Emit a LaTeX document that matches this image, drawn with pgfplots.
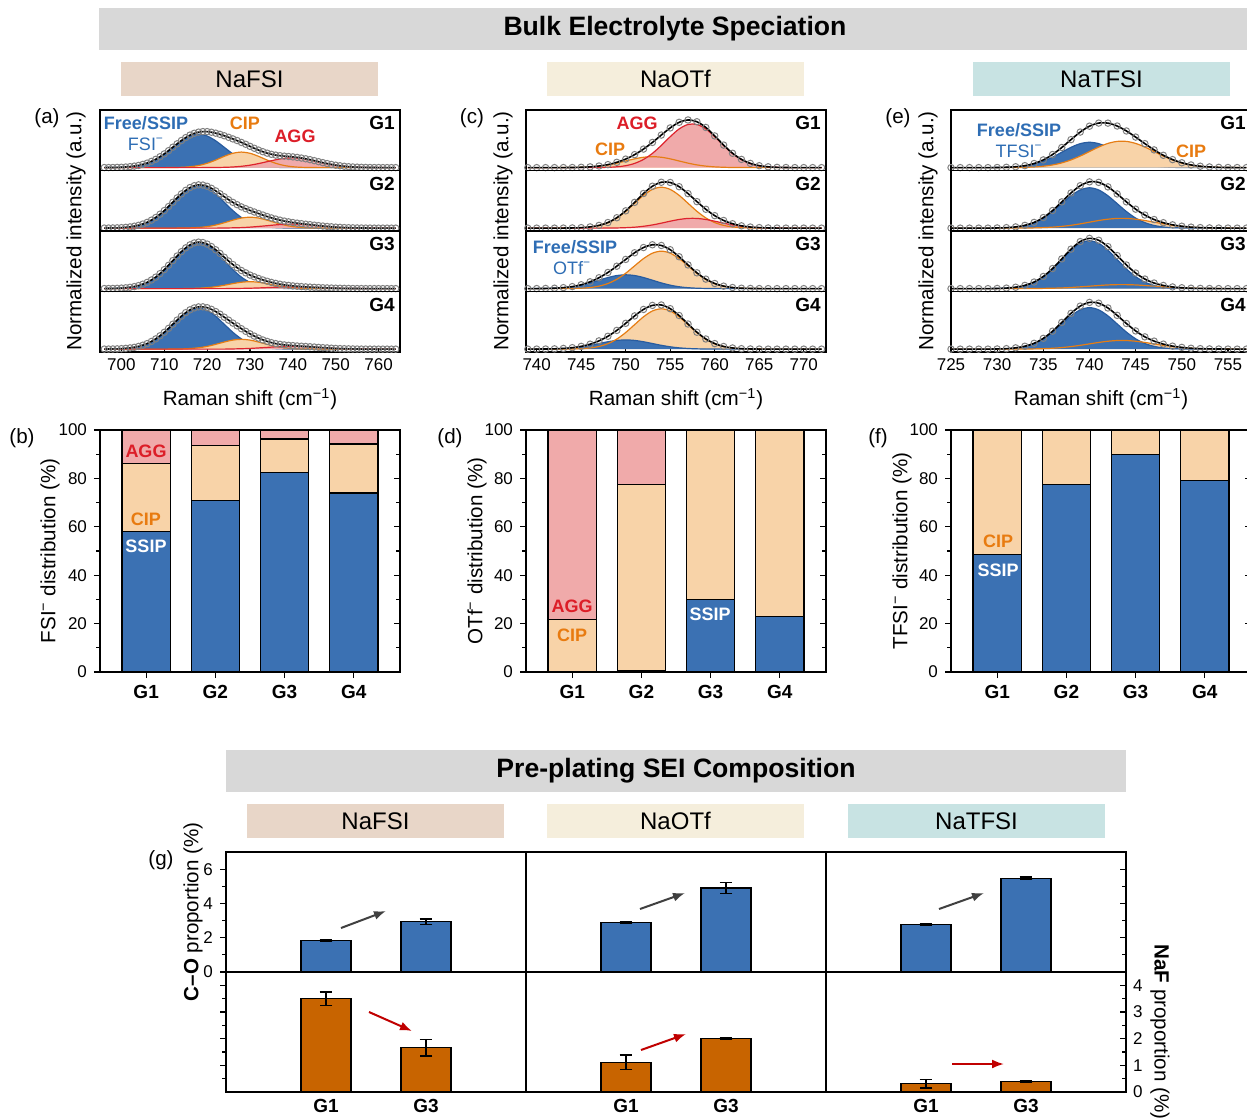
\documentclass[border=0pt]{standalone}
\usepackage{fontspec}
\setmainfont{Liberation Sans}
\usepackage{pgfplots}
\usepackage{pgfplotstable}
\pgfplotsset{compat=1.18}
\usetikzlibrary{arrows.meta}

\definecolor{cBf}{RGB}{59,113,179}
\definecolor{cBl}{RGB}{40,92,160}
\definecolor{cOf}{RGB}{248,211,168}
\definecolor{cOl}{RGB}{230,125,20}
\definecolor{cRf}{RGB}{240,170,170}
\definecolor{cRl}{RGB}{222,35,45}
\definecolor{cBt}{RGB}{46,109,180}
\definecolor{cOt}{RGB}{232,123,16}
\definecolor{cRt}{RGB}{220,30,40}
\definecolor{cGray}{RGB}{216,216,216}
\definecolor{cFSI}{RGB}{232,214,200}
\definecolor{cOTf}{RGB}{245,238,220}
\definecolor{cTFSI}{RGB}{200,227,227}
\definecolor{cNaF}{RGB}{200,100,0}
\definecolor{cMark}{RGB}{128,128,128}
\definecolor{cArG}{RGB}{64,64,64}
\definecolor{cArR}{RGB}{192,0,0}

\newcommand\titlefont{\fontsize{13.3}{15}\selectfont\bfseries}
\newcommand\banfont{\fontsize{12}{14}\selectfont}
\newcommand\lblfont{\fontsize{10.3}{12}\selectfont}
\newcommand\tickfont{\fontsize{8.5}{10}\selectfont}
\newcommand\gfont{\fontsize{9.5}{11}\selectfont\bfseries}
\newcommand\annB{\fontsize{9}{10}\selectfont\bfseries}
\newcommand\annR{\fontsize{9}{10}\selectfont}

% ---------------- (a) NaFSI spectra ----------------
\pgfplotstableread{
x b o r f
696 0.001 0 0 0.001
698 0.002 0 0 0.002
700 0.006 0 0 0.006
702 0.017 0 0 0.017
704 0.038 0 0 0.038
706 0.078 0 0 0.078
708 0.144 0 0 0.144
710 0.238 0 0 0.238
712 0.352 0.002 0 0.354
714 0.465 0.005 0 0.470
716 0.549 0.015 0 0.564
718 0.580 0.036 0 0.616
720 0.549 0.075 0.001 0.625
722 0.465 0.131 0.002 0.598
724 0.352 0.196 0.005 0.553
726 0.238 0.249 0.011 0.498
728 0.144 0.270 0.023 0.437
730 0.078 0.249 0.042 0.369
732 0.038 0.196 0.070 0.304
734 0.017 0.131 0.103 0.251
736 0.006 0.075 0.136 0.217
738 0.002 0.036 0.161 0.199
740 0.001 0.015 0.170 0.186
742 0 0.005 0.161 0.166
744 0 0.002 0.136 0.138
746 0 0 0.103 0.103
748 0 0 0.070 0.070
750 0 0 0.042 0.042
752 0 0 0.023 0.023
754 0 0 0.011 0.011
756 0 0 0.005 0.005
758 0 0 0.002 0.002
760 0 0 0.001 0.001
762 0 0 0 0
764 0 0 0 0
}\tAa
\pgfplotstableread{
x f
697 0.001
699 0.004
701 0.010
703 0.026
705 0.056
707 0.108
709 0.189
711 0.294
713 0.413
715 0.521
717 0.596
719 0.625
721 0.614
723 0.577
725 0.526
727 0.470
729 0.405
731 0.336
733 0.276
735 0.231
737 0.207
739 0.193
741 0.177
743 0.153
745 0.121
747 0.086
749 0.055
751 0.032
753 0.016
755 0.008
757 0.003
759 0.001
761 0
763 0
}\tAaO
\pgfplotstableread{
x b o r f
696 0.001 0 0 0.001
698 0.003 0 0 0.003
700 0.008 0 0 0.008
702 0.021 0 0 0.021
704 0.049 0 0 0.049
706 0.100 0 0 0.100
708 0.184 0 0 0.184
710 0.304 0 0 0.304
712 0.449 0 0 0.449
714 0.593 0.001 0 0.594
716 0.700 0.004 0 0.704
718 0.740 0.011 0 0.751
720 0.700 0.026 0 0.726
722 0.593 0.053 0 0.646
724 0.449 0.093 0.002 0.544
726 0.304 0.138 0.005 0.447
728 0.184 0.175 0.009 0.368
730 0.100 0.190 0.017 0.307
732 0.049 0.175 0.029 0.253
734 0.021 0.138 0.042 0.201
736 0.008 0.093 0.056 0.157
738 0.003 0.053 0.066 0.122
740 0.001 0.026 0.070 0.097
742 0 0.011 0.066 0.077
744 0 0.004 0.056 0.060
746 0 0.001 0.042 0.043
748 0 0 0.029 0.029
750 0 0 0.017 0.017
752 0 0 0.009 0.009
754 0 0 0.005 0.005
756 0 0 0.002 0.002
758 0 0 0.001 0.001
760 0 0 0 0
762 0 0 0 0
764 0 0 0 0
}\tAb
\pgfplotstableread{
x f
697 0.002
699 0.005
701 0.013
703 0.033
705 0.071
707 0.138
709 0.241
711 0.374
713 0.524
715 0.655
717 0.736
719 0.747
721 0.691
723 0.595
725 0.492
727 0.407
729 0.337
731 0.280
733 0.227
735 0.177
737 0.138
739 0.109
741 0.086
743 0.068
745 0.051
747 0.036
749 0.023
751 0.013
753 0.007
755 0.003
757 0.001
759 0
761 0
763 0
}\tAbO
\pgfplotstableread{
x b o r f
696 0.001 0 0 0.001
698 0.003 0 0 0.003
700 0.009 0 0 0.009
702 0.023 0 0 0.023
704 0.053 0 0 0.053
706 0.108 0 0 0.108
708 0.199 0 0 0.199
710 0.329 0 0 0.329
712 0.486 0 0 0.486
714 0.641 0 0 0.641
716 0.757 0.002 0 0.759
718 0.800 0.007 0 0.807
720 0.757 0.016 0 0.773
722 0.641 0.033 0 0.674
724 0.486 0.058 0 0.544
726 0.329 0.087 0.002 0.418
728 0.199 0.111 0.004 0.314
730 0.108 0.120 0.007 0.235
732 0.053 0.111 0.012 0.176
734 0.023 0.087 0.018 0.128
736 0.009 0.058 0.024 0.091
738 0.003 0.033 0.028 0.064
740 0.001 0.016 0.030 0.047
742 0 0.007 0.028 0.035
744 0 0.002 0.024 0.026
746 0 0.001 0.018 0.019
748 0 0 0.012 0.012
750 0 0 0.007 0.007
752 0 0 0.004 0.004
754 0 0 0.002 0.002
756 0 0 0.001 0.001
758 0 0 0 0
760 0 0 0 0
762 0 0 0 0
764 0 0 0 0
}\tAc
\pgfplotstableread{
x f
697 0.002
699 0.005
701 0.014
703 0.035
705 0.077
707 0.150
709 0.260
711 0.405
713 0.566
715 0.707
717 0.793
719 0.800
721 0.730
723 0.611
725 0.479
727 0.363
729 0.274
731 0.205
733 0.150
735 0.108
737 0.076
739 0.056
741 0.041
743 0.030
745 0.022
747 0.015
749 0.010
751 0.006
753 0.003
755 0.001
757 0
759 0
761 0
763 0
}\tAcO
\pgfplotstableread{
x b o r f
696 0.001 0 0 0.001
698 0.003 0 0 0.003
700 0.008 0 0 0.008
702 0.021 0 0 0.021
704 0.047 0 0 0.047
706 0.096 0 0 0.096
708 0.177 0 0 0.177
710 0.292 0 0 0.292
712 0.431 0.001 0 0.432
714 0.569 0.003 0 0.572
716 0.672 0.010 0 0.682
718 0.710 0.023 0 0.733
720 0.672 0.047 0 0.719
722 0.569 0.083 0 0.652
724 0.431 0.123 0 0.554
726 0.292 0.157 0.003 0.452
728 0.177 0.170 0.007 0.354
730 0.096 0.157 0.012 0.265
732 0.047 0.123 0.021 0.191
734 0.021 0.083 0.030 0.134
736 0.008 0.047 0.040 0.095
738 0.003 0.023 0.047 0.073
740 0.001 0.010 0.050 0.061
742 0 0.003 0.047 0.050
744 0 0.001 0.040 0.041
746 0 0 0.030 0.030
748 0 0 0.021 0.021
750 0 0 0.012 0.012
752 0 0 0.007 0.007
754 0 0 0.003 0.003
756 0 0 0.001 0.001
758 0 0 0 0
760 0 0 0 0
762 0 0 0 0
764 0 0 0 0
}\tAd
\pgfplotstableread{
x f
697 0.002
699 0.005
701 0.013
703 0.031
705 0.068
707 0.133
709 0.231
711 0.360
713 0.504
715 0.633
717 0.715
719 0.734
721 0.691
723 0.606
725 0.503
727 0.403
729 0.309
731 0.226
733 0.159
735 0.112
737 0.083
739 0.066
741 0.055
743 0.046
745 0.036
747 0.025
749 0.016
751 0.009
753 0.005
755 0.002
757 0.001
759 0
761 0
763 0
}\tAdO

% ---------------- (c) NaOTf spectra ----------------
\pgfplotstableread{
x o r f
739 0 0 0
740 0 0 0
741 0 0 0
742 0 0 0
743 0.001 0 0.001
744 0.002 0 0.002
745 0.006 0 0.006
746 0.013 0 0.013
747 0.026 0.002 0.028
748 0.047 0.005 0.052
749 0.078 0.014 0.092
750 0.115 0.033 0.148
751 0.152 0.073 0.225
752 0.180 0.142 0.322
753 0.190 0.247 0.437
754 0.180 0.385 0.565
755 0.152 0.537 0.689
756 0.115 0.671 0.786
757 0.078 0.749 0.827
758 0.047 0.749 0.796
759 0.026 0.671 0.697
760 0.013 0.537 0.550
761 0.006 0.385 0.391
762 0.002 0.247 0.249
763 0.001 0.142 0.143
764 0 0.073 0.073
765 0 0.033 0.033
766 0 0.014 0.014
767 0 0.005 0.005
768 0 0.002 0.002
769 0 0 0
770 0 0 0
771 0 0 0
772 0 0 0
}\tCa
\pgfplotstableread{
x o r f
739 0 0 0
740 0 0 0
741 0 0 0
742 0 0 0
743 0.001 0 0.001
744 0.003 0 0.003
745 0.008 0 0.008
746 0.021 0 0.021
747 0.047 0 0.047
748 0.096 0.001 0.097
749 0.177 0.003 0.180
750 0.292 0.008 0.300
751 0.431 0.016 0.447
752 0.569 0.032 0.601
753 0.672 0.055 0.727
754 0.710 0.086 0.796
755 0.672 0.120 0.792
756 0.569 0.150 0.719
757 0.431 0.168 0.599
758 0.292 0.168 0.460
759 0.177 0.150 0.327
760 0.096 0.120 0.216
761 0.047 0.086 0.133
762 0.021 0.055 0.076
763 0.008 0.032 0.040
764 0.003 0.016 0.019
765 0.001 0.008 0.009
766 0 0.003 0.003
767 0 0.001 0.001
768 0 0 0
769 0 0 0
770 0 0 0
771 0 0 0
772 0 0 0
}\tCb
\pgfplotstableread{
x b o f
739 0 0 0
740 0.001 0 0.001
741 0.003 0 0.003
742 0.007 0 0.007
743 0.016 0.001 0.017
744 0.032 0.003 0.035
745 0.060 0.007 0.067
746 0.099 0.019 0.118
747 0.146 0.043 0.189
748 0.192 0.088 0.280
749 0.227 0.162 0.389
750 0.240 0.267 0.507
751 0.227 0.395 0.622
752 0.192 0.521 0.713
753 0.146 0.615 0.761
754 0.099 0.650 0.749
755 0.060 0.615 0.675
756 0.032 0.521 0.553
757 0.016 0.395 0.411
758 0.007 0.267 0.274
759 0.003 0.162 0.165
760 0.001 0.088 0.089
761 0 0.043 0.043
762 0 0.019 0.019
763 0 0.007 0.007
764 0 0.003 0.003
765 0 0.001 0.001
766 0 0 0
767 0 0 0
768 0 0 0
769 0 0 0
770 0 0 0
771 0 0 0
772 0 0 0
}\tCc
\pgfplotstableread{
x b o f
739 0 0 0
740 0.001 0 0.001
741 0.002 0 0.002
742 0.005 0 0.005
743 0.011 0.001 0.012
744 0.022 0.003 0.025
745 0.040 0.008 0.048
746 0.066 0.020 0.086
747 0.097 0.046 0.143
748 0.128 0.095 0.223
749 0.151 0.174 0.325
750 0.160 0.288 0.448
751 0.151 0.425 0.576
752 0.128 0.561 0.689
753 0.097 0.662 0.759
754 0.066 0.700 0.766
755 0.040 0.662 0.702
756 0.022 0.561 0.583
757 0.011 0.425 0.436
758 0.005 0.288 0.293
759 0.002 0.174 0.176
760 0.001 0.095 0.096
761 0 0.046 0.046
762 0 0.020 0.020
763 0 0.008 0.008
764 0 0.003 0.003
765 0 0.001 0.001
766 0 0 0
767 0 0 0
768 0 0 0
769 0 0 0
770 0 0 0
771 0 0 0
772 0 0 0
}\tCd

% ---------------- (e) NaTFSI spectra ----------------
\pgfplotstableread{
x b o f
725 0 0 0
726 0 0 0
727 0 0 0
728 0 0 0
729 0 0 0
730 0.002 0 0.002
731 0.005 0.001 0.006
732 0.013 0.002 0.015
733 0.029 0.005 0.034
734 0.059 0.012 0.071
735 0.110 0.024 0.134
736 0.181 0.046 0.227
737 0.267 0.082 0.349
738 0.352 0.134 0.486
739 0.416 0.201 0.617
740 0.440 0.279 0.719
741 0.416 0.357 0.773
742 0.352 0.420 0.772
743 0.267 0.455 0.722
744 0.181 0.455 0.636
745 0.110 0.420 0.530
746 0.059 0.357 0.416
747 0.029 0.279 0.308
748 0.013 0.201 0.214
749 0.005 0.134 0.139
750 0.002 0.082 0.084
751 0 0.046 0.046
752 0 0.024 0.024
753 0 0.012 0.012
754 0 0.005 0.005
755 0 0.002 0.002
756 0 0.001 0.001
757 0 0 0
}\tEa
\pgfplotstableread{
x b o f
725 0 0 0
726 0 0 0
727 0 0 0
728 0 0 0
729 0 0 0
730 0.003 0 0.003
731 0.008 0 0.008
732 0.020 0.001 0.021
733 0.046 0.002 0.048
734 0.095 0.004 0.099
735 0.174 0.009 0.183
736 0.288 0.017 0.305
737 0.425 0.030 0.455
738 0.561 0.049 0.610
739 0.662 0.074 0.736
740 0.700 0.103 0.803
741 0.662 0.132 0.794
742 0.561 0.155 0.716
743 0.425 0.168 0.593
744 0.288 0.168 0.456
745 0.174 0.155 0.329
746 0.095 0.132 0.227
747 0.046 0.103 0.149
748 0.020 0.074 0.094
749 0.008 0.049 0.057
750 0.003 0.030 0.033
751 0 0.017 0.017
752 0 0.009 0.009
753 0 0.004 0.004
754 0 0.002 0.002
755 0 0.001 0.001
756 0 0 0
757 0 0 0
}\tEb
\pgfplotstableread{
x b o f
725 0 0 0
726 0 0 0
727 0 0 0
728 0 0 0
729 0 0 0
730 0.003 0 0.003
731 0.009 0 0.009
732 0.024 0 0.024
733 0.055 0.001 0.056
734 0.112 0.002 0.114
735 0.207 0.004 0.211
736 0.341 0.007 0.348
737 0.504 0.012 0.516
738 0.665 0.020 0.685
739 0.785 0.031 0.816
740 0.830 0.042 0.872
741 0.785 0.054 0.839
742 0.665 0.064 0.729
743 0.504 0.069 0.573
744 0.341 0.069 0.410
745 0.207 0.064 0.271
746 0.112 0.054 0.166
747 0.055 0.042 0.097
748 0.024 0.031 0.055
749 0.009 0.020 0.029
750 0.003 0.012 0.015
751 0 0.007 0.007
752 0 0.004 0.004
753 0 0.002 0.002
754 0 0.001 0.001
755 0 0 0
756 0 0 0
757 0 0 0
}\tEc
\pgfplotstableread{
x b o f
725 0 0 0
726 0 0 0
727 0 0 0
728 0 0 0
729 0 0 0
730 0.003 0 0.003
731 0.008 0 0.008
732 0.021 0.001 0.022
733 0.048 0.002 0.050
734 0.097 0.004 0.101
735 0.179 0.008 0.187
736 0.296 0.015 0.311
737 0.437 0.027 0.464
738 0.577 0.044 0.621
739 0.681 0.066 0.747
740 0.720 0.091 0.811
741 0.681 0.116 0.797
742 0.577 0.137 0.714
743 0.437 0.149 0.586
744 0.296 0.149 0.445
745 0.179 0.137 0.316
746 0.097 0.116 0.213
747 0.048 0.091 0.139
748 0.021 0.066 0.087
749 0.008 0.044 0.052
750 0.003 0.027 0.030
751 0 0.015 0.015
752 0 0.008 0.008
753 0 0.004 0.004
754 0 0.002 0.002
755 0 0.001 0.001
756 0 0 0
757 0 0 0
}\tEd

\pgfplotsset{
  /pgf/number format/assume math mode=true,
  every tick/.style={black, line width=0.6pt},
  spec/.style={scale only axis, width=150pt, height=30.25pt, anchor=north west,
    ymin=-0.05, ymax=1, ytick=\empty, xtick=\empty,
    axis line style={line width=0.7pt}},
  specx/.style={xtick pos=left, tick align=inside, major tick length=2pt,
    xticklabel style={font=\tickfont}},
  Bf/.style={fill=cBf, draw=none, smooth},
  Of/.style={fill=cOf, draw=none, smooth},
  Rf/.style={fill=cRf, draw=none, smooth},
  Bl/.style={draw=cBl, line width=0.6pt, smooth},
  Ol/.style={draw=cOl, line width=0.6pt, smooth},
  Rl/.style={draw=cRl, line width=0.6pt, smooth},
  Fl/.style={draw=black, line width=0.8pt, smooth},
  Dm/.style={only marks, mark=o, mark size=1.6pt, mark options={draw=cMark, line width=0.5pt}},
  bars/.style={scale only axis, width=150pt, height=121pt, anchor=north west,
    xmin=-0.667, xmax=3.667, ymin=0, ymax=100, ybar stacked, bar width=0.7,
    xtick={0,1,2,3}, xticklabels={G1,G2,G3,G4}, xticklabel style={font=\gfont},
    ytick={0,20,...,100}, minor y tick num=1, yticklabel style={font=\tickfont},
    xtick pos=left, ytick pos=left, tick align=outside,
    major tick length=3pt, minor tick length=1.8pt,
    axis line style={line width=0.7pt},
    every axis plot/.append style={draw=black, line width=0.6pt}},
  rt/.style={scale only axis, width=150pt, height=121pt, anchor=north west,
    xmin=0, xmax=1, ymin=0, ymax=100, axis x line=none, axis y line*=right,
    axis line style={draw=none},
    ytick={0,20,...,100}, minor y tick num=1, yticklabels={}, tick align=inside,
    major tick length=3pt, minor tick length=1.8pt},
  gb/.style={scale only axis, width=150pt, height=60pt, anchor=north west,
    xmin=0, xmax=3, xtick=\empty, ytick=\empty,
    axis line style={line width=0.7pt},
    major tick length=3pt, minor tick length=1.8pt,
    yticklabel style={font=\tickfont}},
  gtop/.style={gb, ymin=0, ymax=7},
  gbot/.style={gb, ymin=0, ymax=4.5, xtick={1,2}, xticklabels={G1,G3},
    xticklabel style={font=\gfont}, xtick pos=left, xtick align=inside,
    xtick style={draw=none}},
  Bbar/.style={ybar, bar width=0.5, fill=cBf, draw=black, line width=0.6pt,
    error bars/.cd, y dir=both, y explicit,
    error bar style={line width=0.8pt, black},
    error mark options={rotate=90, line width=0.8pt, mark size=3.2pt, black}},
  Nbar/.style={ybar, bar width=0.5, fill=cNaF, draw=black, line width=0.6pt,
    error bars/.cd, y dir=both, y explicit,
    error bar style={line width=0.8pt, black},
    error mark options={rotate=90, line width=0.8pt, mark size=3.2pt, black}},
}

% #1 axis options, #2 table, #3 label,
% #4 blue: 0 none, 1 below orange, 2 above orange; #5 red present; #6 extra
\newcommand{\spec}[6]{%
\begin{axis}[spec,#1]
\ifnum#4=1 \addplot[Bf] table[x=x,y=b]{#2}\closedcycle;
\addplot[Bl] table[x=x,y=b]{#2};\fi
\addplot[Of] table[x=x,y=o]{#2}\closedcycle;
\ifnum#5=1 \addplot[Rf] table[x=x,y=r]{#2}\closedcycle;\fi
\ifnum#4=2 \addplot[Bf] table[x=x,y=b]{#2}\closedcycle;
\addplot[Bl] table[x=x,y=b]{#2};\fi
\addplot[Ol] table[x=x,y=o]{#2};
\ifnum#5=1 \addplot[Rl] table[x=x,y=r]{#2};\fi
\addplot[Fl] table[x=x,y=f]{#2};
\addplot[Dm] table[x=x,y=f]{#2};
#6
\node[anchor=east, font=\gfont, inner sep=1pt] at (rel axis cs:0.99,0.78) {#3};
\end{axis}}

\begin{document}
\begin{tikzpicture}
\useasboundingbox (0pt,0pt) rectangle (623.5pt,-559pt);

% banners
\begin{scope}[x=0.5pt,y=-0.5pt]
\fill[cGray] (99,8) rectangle (1247,50);
\node[font=\titlefont] at (675,29) {Bulk Electrolyte Speciation};
\fill[cFSI] (121,62) rectangle (378,96);
\node[font=\banfont] at (249.5,79) {NaFSI};
\fill[cOTf] (547,62) rectangle (804,96);
\node[font=\banfont] at (675.5,79) {NaOTf};
\fill[cTFSI] (973,62) rectangle (1230,96);
\node[font=\banfont] at (1101.5,79) {NaTFSI};
\fill[cGray] (226,750) rectangle (1126,792);
\node[font=\titlefont] at (676,771) {Pre-plating SEI Composition};
\fill[cFSI] (247,804) rectangle (504,838);
\node[font=\banfont] at (375.5,821) {NaFSI};
\fill[cOTf] (547,804) rectangle (804,838);
\node[font=\banfont] at (675.5,821) {NaOTf};
\fill[cTFSI] (848,804) rectangle (1105,838);
\node[font=\banfont] at (976.5,821) {NaTFSI};
\end{scope}

% (a)
\spec{at={(50pt,-55pt)}, xmin=695, xmax=765}{\tAa}{G1}{1}{1}{\addplot[Dm] table[x=x,y=f]{\tAaO};}
\spec{at={(50pt,-85.25pt)}, xmin=695, xmax=765}{\tAb}{G2}{1}{1}{\addplot[Dm] table[x=x,y=f]{\tAbO};}
\spec{at={(50pt,-115.5pt)}, xmin=695, xmax=765}{\tAc}{G3}{1}{1}{\addplot[Dm] table[x=x,y=f]{\tAcO};}
\spec{at={(50pt,-145.75pt)}, xmin=695, xmax=765, specx, xtick={700,710,...,760}}{\tAd}{G4}{1}{1}{\addplot[Dm] table[x=x,y=f]{\tAdO};}
% (c)
\spec{at={(263pt,-55pt)}, xmin=738.8, xmax=772.5}{\tCa}{G1}{0}{1}{}
\spec{at={(263pt,-85.25pt)}, xmin=738.8, xmax=772.5}{\tCb}{G2}{0}{1}{}
\spec{at={(263pt,-115.5pt)}, xmin=738.8, xmax=772.5}{\tCc}{G3}{2}{0}{}
\spec{at={(263pt,-145.75pt)}, xmin=738.8, xmax=772.5, specx, xtick={740,745,...,770}}{\tCd}{G4}{2}{0}{}
% (e)
\spec{at={(475.5pt,-55pt)}, xmin=725, xmax=757.5}{\tEa}{G1}{1}{0}{}
\spec{at={(475.5pt,-85.25pt)}, xmin=725, xmax=757.5}{\tEb}{G2}{2}{0}{}
\spec{at={(475.5pt,-115.5pt)}, xmin=725, xmax=757.5}{\tEc}{G3}{2}{0}{}
\spec{at={(475.5pt,-145.75pt)}, xmin=725, xmax=757.5, specx, xtick={725,730,...,755}}{\tEd}{G4}{2}{0}{}

% (b)
\begin{axis}[bars, at={(50pt,-215pt)}]
\addplot[fill=cBf] coordinates {(0,58) (1,71) (2,82.5) (3,74)};
\addplot[fill=cOf] coordinates {(0,28) (1,22.5) (2,13.8) (3,20.2)};
\addplot[fill=cRf] coordinates {(0,14) (1,6.5) (2,3.7) (3,5.8)};
\end{axis}
\begin{axis}[rt, at={(50pt,-215pt)}]
\addplot[draw=none] coordinates {(0.5,50)};
\end{axis}
% (d)
\begin{axis}[bars, at={(263pt,-215pt)}]
\addplot[fill=cBf] coordinates {(0,0) (1,0.4) (2,30) (3,23)};
\addplot[fill=cOf] coordinates {(0,21.7) (1,77.1) (2,70) (3,77)};
\addplot[fill=cRf] coordinates {(0,78.3) (1,22.5) (2,0) (3,0)};
\end{axis}
\begin{axis}[rt, at={(263pt,-215pt)}]
\addplot[draw=none] coordinates {(0.5,50)};
\end{axis}
% (f)
\begin{axis}[bars, at={(475.5pt,-215pt)}]
\addplot[fill=cBf] coordinates {(0,48.5) (1,77.5) (2,90) (3,79)};
\addplot[fill=cOf] coordinates {(0,51.5) (1,22.5) (2,10) (3,21)};
\end{axis}
\begin{axis}[rt, at={(475.5pt,-215pt)}]
\addplot[draw=none] coordinates {(0.5,50)};
\end{axis}

% (g)
\begin{axis}[gtop, at={(113pt,-426pt)}, ytick={0,2,4,6}, minor ytick={1,3,5}, ytick pos=left, ytick align=outside]
\addplot[Bbar] coordinates {(1,1.83) +- (0,0.03) (2,2.93) +- (0,0.17)};
\end{axis}
\begin{axis}[gbot, at={(113pt,-486pt)}, ytick={1,2,3,4}, minor ytick={0.5,1.5,2.5,3.5}, yticklabels={}, ytick pos=left, ytick align=outside]
\addplot[Nbar] coordinates {(1,3.50) +- (0,0.26) (2,1.66) +- (0,0.31)};
\end{axis}
\begin{axis}[gtop, at={(263pt,-426pt)}]
\addplot[Bbar] coordinates {(1,2.88) +- (0,0.03) (2,4.90) +- (0,0.33)};
\end{axis}
\begin{axis}[gbot, at={(263pt,-486pt)}]
\addplot[Nbar] coordinates {(1,1.12) +- (0,0.27) (2,2.00) +- (0,0.02)};
\end{axis}
\begin{axis}[gtop, at={(413pt,-426pt)}, ytick={2,4,6}, minor ytick={1,3,5}, yticklabels={}, ytick pos=right, ytick align=inside]
\addplot[Bbar] coordinates {(1,2.78) +- (0,0.06) (2,5.46) +- (0,0.07)};
\end{axis}
\begin{axis}[gbot, at={(413pt,-486pt)}, ytick={0,1,2,3,4}, minor ytick={0.5,1.5,2.5,3.5}, ytick pos=right, ytick align=inside]
\addplot[Nbar] coordinates {(1,0.31) +- (0,0.16) (2,0.40) +- (0,0.02)};
\end{axis}

% labels and annotations
\begin{scope}[x=0.5pt,y=-0.5pt]
\node[font=\lblfont] at (47,118) {(a)};
\node[font=\lblfont] at (472,118) {(c)};
\node[font=\lblfont] at (898,118) {(e)};
\node[font=\lblfont] at (22,438) {(b)};
\node[font=\lblfont] at (450,438) {(d)};
\node[font=\lblfont] at (878,438) {(f)};
\node[font=\lblfont] at (161,860) {(g)};
\node[font=\lblfont, rotate=90] at (76,231) {Normalized intensity (a.u.)};
\node[font=\lblfont, rotate=90] at (503,231) {Normalized intensity (a.u.)};
\node[font=\lblfont, rotate=90] at (928,231) {Normalized intensity (a.u.)};
\node[font=\lblfont] at (250,399) {Raman shift (cm\textsuperscript{−1})};
\node[font=\lblfont] at (676,399) {Raman shift (cm\textsuperscript{−1})};
\node[font=\lblfont] at (1101,399) {Raman shift (cm\textsuperscript{−1})};
\node[font=\lblfont, rotate=90] at (50,551) {FSI\textsuperscript{−} distribution (\%)};
\node[font=\lblfont, rotate=90] at (477,551) {OTf\textsuperscript{−} distribution (\%)};
\node[font=\lblfont, rotate=90] at (902,551) {TFSI\textsuperscript{−} distribution (\%)};
\node[font=\lblfont, rotate=90] at (193,912) {\textbf{C–O} proportion (\%)};
\node[font=\lblfont, rotate=-90] at (1160,1032) {\textbf{NaF} proportion (\%)};
% spectra annotations
\node[font=\annB, text=cBt] at (146,123) {Free/SSIP};
\node[font=\annR, text=cBt] at (146,144) {FSI\textsuperscript{−}};
\node[font=\annB, text=cOt] at (245,123) {CIP};
\node[font=\annB, text=cRt] at (295,136) {AGG};
\node[font=\annB, text=cRt] at (637,123) {AGG};
\node[font=\annB, text=cOt] at (610,149) {CIP};
\node[font=\annB, text=cBt] at (575,247) {Free/SSIP};
\node[font=\annR, text=cBt] at (572,268) {OTf\textsuperscript{−}};
\node[font=\annB, text=cBt] at (1019,130) {Free/SSIP};
\node[font=\annR, text=cBt] at (1019,151) {TFSI\textsuperscript{−}};
\node[font=\annB, text=cOt] at (1191,151) {CIP};
% bar annotations
\node[font=\annB, text=cRt] at (146,451) {AGG};
\node[font=\annB, text=cOt] at (146,519) {CIP};
\node[font=\annB, text=white] at (146,546) {SSIP};
\node[font=\annB, text=cRt] at (572,606) {AGG};
\node[font=\annB, text=cOt] at (572,635) {CIP};
\node[font=\annB, text=white] at (710,614) {SSIP};
\node[font=\annB, text=cOt] at (998,541) {CIP};
\node[font=\annB, text=white] at (998,570) {SSIP};
% arrows
\draw[-{Latex[length=6pt,width=4.5pt]}, line width=1pt, cArG] (341,928) -- (386,911);
\draw[-{Latex[length=6pt,width=4.5pt]}, line width=1pt, cArG] (640,909) -- (685,893);
\draw[-{Latex[length=6pt,width=4.5pt]}, line width=1pt, cArG] (939,909) -- (984,893);
\draw[-{Latex[length=6pt,width=4.5pt]}, line width=1pt, cArR] (369,1012) -- (412,1031);
\draw[-{Latex[length=6pt,width=4.5pt]}, line width=1pt, cArR] (641,1050) -- (686,1034);
\draw[-{Latex[length=6pt,width=4.5pt]}, line width=1pt, cArR] (952,1064) -- (1004,1064);
\end{scope}
\end{tikzpicture}
\end{document}
